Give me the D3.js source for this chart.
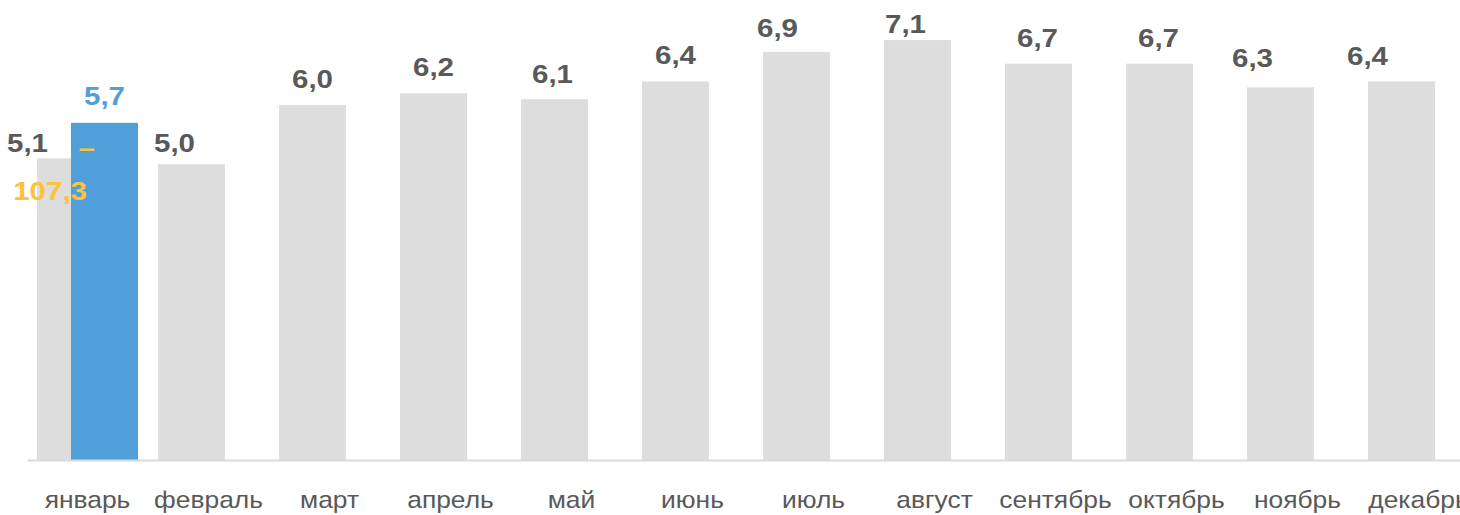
<!DOCTYPE html>
<html>
<head>
<meta charset="utf-8">
<script src="https://cdn.jsdelivr.net/npm/d3@7"></script>
<style>
  body { margin: 0; background: #fff; }
  text { font-family: "Liberation Sans", Arial, sans-serif; }
</style>
</head>
<body>
<div id="plot"></div>
<script>
// months on the x axis
const months = ["январь", "февраль", "март", "апрель", "май", "июнь",
  "июль", "август", "сентябрь", "октябрь", "ноябрь", "декабрь"];
// previous year (grey bars)
const prevYear = [5.1, 5.0, 6.0, 6.2, 6.1, 6.4, 6.9, 7.1, 6.7, 6.7, 6.3, 6.4];
// current year (only january so far)
const currYear = [5.7];
// growth vs previous year, %
const currIndex = ["107,3"];

// manual nudges of the grey value labels (px), as in the original layout
const labelDx = [-43, -17, 0, 0, -2, 0, -19, -12, -1, -1, -28, -34];
const labelGap = [6, 12, 17, 17, 16, 17, 15, 7, 17, 17, 20, 16];

const fmt = v => v.toFixed(1).replace(".", ",");

const width = 1460, height = 515;
const baseY = 460;
const stretch = "scale(1.18,1)"; // the original text is a bit wide

const svg = d3.select("#plot").append("svg")
  .attr("width", width)
  .attr("height", height);

const x = d3.scaleBand()
  .domain(months)
  .range([27, 27 + 121 * months.length])
  .paddingInner(0)
  .paddingOuter(0);

const y = d3.scaleLinear()
  .domain([0, 7.777])
  .range([baseY, 0]);

const barW = 67;

// grey bars
svg.selectAll(".prev")
  .data(prevYear)
  .enter().append("rect")
  .attr("class", "prev")
  .attr("x", (d, i) => x(months[i]) + 10)
  .attr("width", barW)
  .attr("y", d => y(d))
  .attr("height", d => baseY - y(d))
  .attr("fill", "#dddddd");

// blue bars (current year)
svg.selectAll(".curr")
  .data(currYear)
  .enter().append("rect")
  .attr("class", "curr")
  .attr("x", (d, i) => x(months[i]) + 44)
  .attr("width", barW)
  .attr("y", d => y(d))
  .attr("height", d => baseY - y(d))
  .attr("fill", "#509fd8");

// axis
const axis = svg.append("g")
  .attr("transform", "translate(0," + baseY + ")")
  .call(d3.axisBottom(x).tickSize(0).tickPadding(31));
axis.select(".domain").attr("stroke", "#d9d9d9").attr("stroke-width", 2);
axis.selectAll("text")
  .attr("fill", "#595959")
  .attr("transform", "scale(1.1,1)")
  .style("font-size", "24px")
  .style("font-family", "'Liberation Sans', Arial, sans-serif");

// grey value labels
svg.selectAll(".prevLabel")
  .data(prevYear)
  .enter().append("text")
  .attr("class", "prevLabel")
  .attr("transform", (d, i) => "translate(" + (x(months[i]) + 10 + barW / 2 + labelDx[i]) + "," + (y(d) - labelGap[i]) + ") " + stretch)
  .attr("text-anchor", "middle")
  .attr("fill", "#595959")
  .style("font-size", "25px")
  .style("font-weight", "bold")
  .text(d => fmt(d));

// blue value labels
svg.selectAll(".currLabel")
  .data(currYear)
  .enter().append("text")
  .attr("class", "currLabel")
  .attr("transform", (d, i) => "translate(" + (x(months[i]) + 44 + barW / 2) + "," + (y(d) - 18) + ") " + stretch)
  .attr("text-anchor", "middle")
  .attr("fill", "#509fd8")
  .style("font-size", "25px")
  .style("font-weight", "bold")
  .text(d => fmt(d));

// orange index labels (dash + value on two lines)
const idx = svg.selectAll(".idxLabel")
  .data(currIndex)
  .enter().append("g")
  .attr("class", "idxLabel");
idx.append("text")
  .attr("transform", (d, i) => "translate(" + (x(months[i]) + 68) + "," + (y(currYear[i]) + 34) + ") " + stretch)
  .attr("text-anchor", "end")
  .attr("fill", "#ffc03a")
  .style("font-size", "25px")
  .style("font-weight", "bold")
  .text("–");
idx.append("text")
  .attr("transform", (d, i) => "translate(" + (x(months[i]) + 60) + "," + (y(currYear[i]) + 77) + ") " + stretch)
  .attr("text-anchor", "end")
  .attr("fill", "#ffc03a")
  .style("font-size", "25px")
  .style("font-weight", "bold")
  .text(d => d);
</script>
</body>
</html>
